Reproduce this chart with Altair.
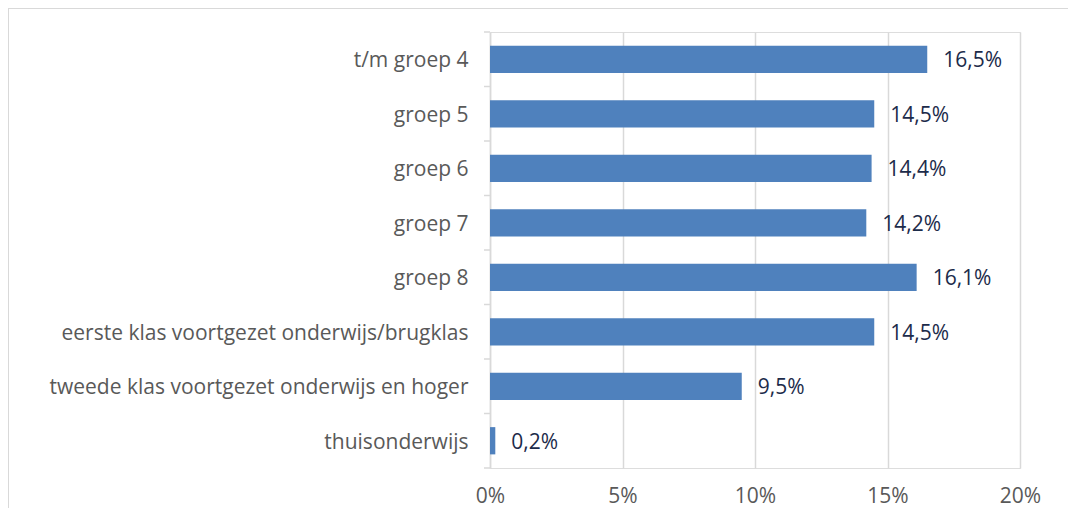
import altair as alt
import pandas as pd

categories = [
    "t/m groep 4",
    "groep 5",
    "groep 6",
    "groep 7",
    "groep 8",
    "eerste klas voortgezet onderwijs/brugklas",
    "tweede klas voortgezet onderwijs en hoger",
    "thuisonderwijs",
]
values = [16.5, 14.5, 14.4, 14.2, 16.1, 14.5, 9.5, 0.2]
x_ticks = [0, 5, 10, 15, 20]

df = pd.DataFrame({"cat": categories, "v": values})

FONT = "Open Sans"
FS = 21
W, H = 530, 436
STEP = H / len(categories)

y_enc = alt.Y("cat:N", sort=categories,
              scale=alt.Scale(paddingInner=0.5, paddingOuter=0.25),
              axis=alt.Axis(title=None, labelFont=FONT, labelFontSize=FS,
                            labelColor="#595959", labelPadding=22, labelOffset=2,
                            ticks=False, domainColor="#d9d9d9",
                            domainWidth=1.5, grid=False, labelLimit=500))
x_enc = alt.X("v:Q", scale=alt.Scale(domain=[0, 20], nice=False),
              axis=alt.Axis(title=None, values=x_ticks, labelExpr="datum.value + '%'",
                            labelFont=FONT, labelFontSize=FS, labelColor="#595959",
                            labelPadding=17, labelFlush=False, domain=False, ticks=False,
                            grid=True, gridColor="#d9d9d9", gridWidth=1.5))

bars = alt.Chart(df).mark_bar(color="#4f81bd").encode(y=y_enc, x=x_enc)

labels = alt.Chart(df).transform_calculate(
    lab="replace(format(datum.v, '.1f'), '.', ',') + '%'"
).mark_text(align="left", baseline="middle", dx=16, dy=2, font=FONT, fontSize=FS,
            color="#1c2b4a").encode(
    y=alt.Y("cat:N", sort=categories), x=alt.X("v:Q"), text="lab:N")

ticks_top = alt.Chart(df).mark_rule(color="#d9d9d9", strokeWidth=1.5, yOffset=-STEP / 2).encode(
    y=alt.Y("cat:N", sort=categories), x=alt.value(-6), x2=alt.value(0))
ticks_bot = alt.Chart(df.tail(1)).mark_rule(color="#d9d9d9", strokeWidth=1.5, yOffset=STEP / 2).encode(
    y=alt.Y("cat:N", sort=categories), x=alt.value(-6), x2=alt.value(0))

border_top = alt.Chart(df.head(1)).mark_rule(color="#d9d9d9", strokeWidth=2).encode(
    x=alt.value(-482), x2=alt.value(578), y=alt.value(-24))
border_left = alt.Chart(df.head(1)).mark_rule(color="#d9d9d9", strokeWidth=2).encode(
    x=alt.value(-482), y=alt.value(-24), y2=alt.value(476))

chart = alt.layer(bars, labels, ticks_top, ticks_bot, border_top, border_left).properties(
    width=W, height=H,
    autosize=alt.AutoSizeParams(type="none"),
    padding={"left": 482, "top": 24, "right": 48, "bottom": 40},
).configure_view(stroke=None).configure(background="white")

chart.save("out.html", embed_options={"renderer": "svg", "actions": False})
